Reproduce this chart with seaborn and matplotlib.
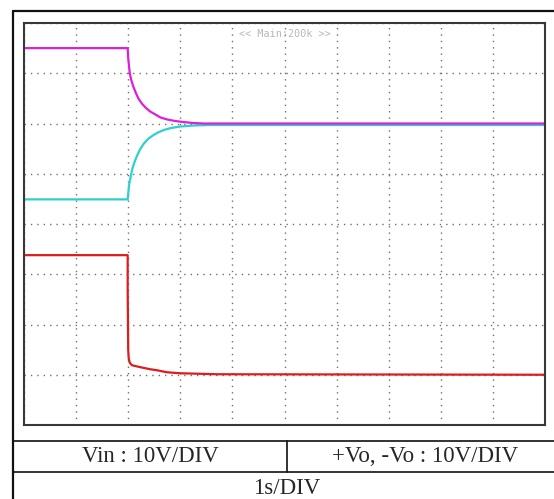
import numpy as np
import pandas as pd
import seaborn as sns
import matplotlib.pyplot as plt
from matplotlib.lines import Line2D

# scope traces, in divisions (x: 10 div, y: 8 div from bottom)
vin_t = [0.0, 1.99, 1.99, 2.0, 2.01, 2.03, 2.07, 2.15, 2.28, 2.42, 2.55, 2.74, 2.99, 3.35, 3.70, 10.0]
vin_v = [3.38, 3.38, 2.71, 1.5, 1.32, 1.24, 1.19, 1.17, 1.14, 1.11, 1.09, 1.05, 1.03, 1.02, 1.01, 1.0]

vneg_t = [0.0, 1.99, 2.0, 2.02, 2.05, 2.08, 2.12, 2.17, 2.23, 2.30, 2.38, 2.47, 2.57, 2.68,
          2.82, 3.0, 3.25, 3.55, 10.0]
vneg_v = [4.49, 4.49, 4.6, 4.8, 4.95, 5.1, 5.23, 5.36, 5.49, 5.6, 5.69, 5.76, 5.82, 5.87,
          5.91, 5.94, 5.96, 5.97, 5.97]

vpos_t = [0.0, 1.99, 2.0, 2.03, 2.06, 2.10, 2.15, 2.20, 2.26, 2.33, 2.42, 2.52, 2.62, 2.75,
          2.9, 3.05, 3.25, 3.45, 10.0]
vpos_v = [7.5, 7.5, 7.3, 7.0, 6.86, 6.73, 6.6, 6.49, 6.40, 6.32, 6.24, 6.18, 6.12, 6.08,
          6.05, 6.03, 6.01, 6.0, 6.0]

traces = [("Vin", vin_t, vin_v, "#dd1c1c"),
          ("-Vo", vneg_t, vneg_v, "#2fcfcf"),
          ("+Vo", vpos_t, vpos_v, "#dc1fdc")]

W, H = 554, 499


def fx(px):
    return px / W


def fy(py):
    return 1 - py / H


sns.set_style("white")
plt.rcParams['font.family'] = ['Liberation Serif', 'DejaVu Serif']

fig = plt.figure(figsize=(W / 100, H / 100), dpi=100)
ax = fig.add_axes([fx(24), fy(425), fx(545) - fx(24), fy(23) - fy(425)])

for name, t, v, col in traces:
    df = pd.DataFrame({'t': t, 'v': v})
    sns.lineplot(data=df, x='t', y='v', ax=ax, color=col, lw=1.6,
                 estimator=None, sort=False, legend=False)

ax.set_xlim(0, 10)
ax.set_ylim(0, 8)
ax.set_xticks(np.arange(0, 11))
ax.set_yticks(np.arange(0, 9))
ax.tick_params(length=0, labelbottom=False, labelleft=False)
ax.set_xlabel('')
ax.set_ylabel('')
ax.grid(True, color='#707070', linestyle=(0, (1, 3.6)), lw=1.0)
ax.set_axisbelow(True)
for s in ax.spines.values():
    s.set_color('#383838')
    s.set_linewidth(1.5)

ax.text(0.5, 0.985, '<< Main:200k >>', transform=ax.transAxes, ha='center', va='top',
        fontsize=7.3, color='#b8b8b8', family='DejaVu Sans Mono')

# outer frame and table lines
lines = [([13, 554], [11, 11], 1.6),
         ([13, 13], [11, 499], 1.6),
         ([13, 554], [441, 441], 1.2),
         ([13, 554], [472, 472], 1.2),
         ([287, 287], [441, 472], 1.2)]
for xs, ys, lw in lines:
    fig.add_artist(Line2D([fx(x) for x in xs], [fy(y) for y in ys],
                          transform=fig.transFigure, color='#111111', lw=lw))

fig.text(fx(150), fy(457), 'Vin : 10V/DIV', ha='center', va='center', fontsize=16.5)
fig.text(fx(425), fy(457), '+Vo, -Vo : 10V/DIV', ha='center', va='center', fontsize=16.5)
fig.text(fx(287), fy(494), '1s/DIV', ha='center', va='baseline', fontsize=16.5)

fig.savefig('out.png', dpi=100)
